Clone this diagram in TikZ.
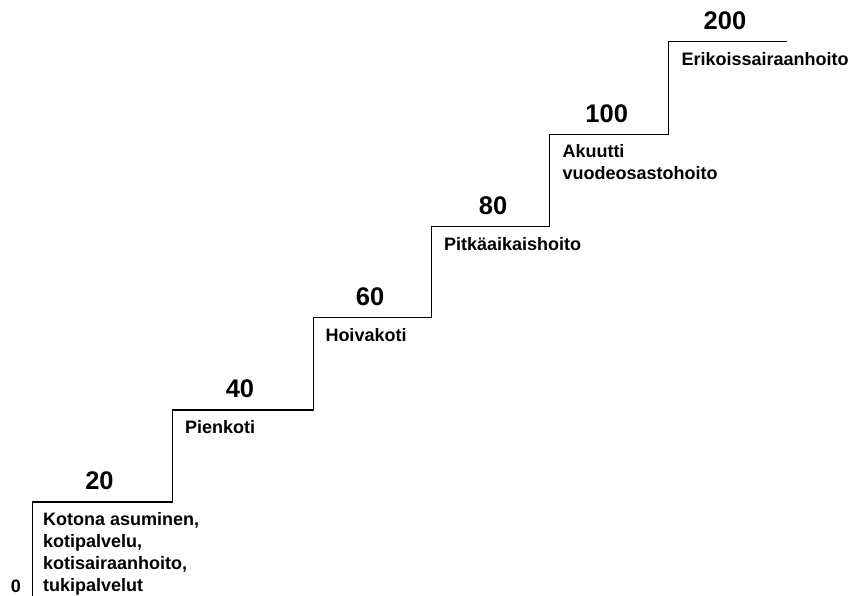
\documentclass[tikz,border=0pt]{standalone}
\usepackage{fontspec}
\setmainfont{Liberation Sans}
\begin{document}
\begin{tikzpicture}[x=1pt,y=1pt,
  stair/.style={draw=black,line width=1.3pt},
  num/.style={anchor=base,inner sep=0pt,font=\fontsize{25.5}{30}\selectfont\bfseries},
  lbl/.style={anchor=base west,inner sep=0pt,font=\fontsize{18}{22}\selectfont\bfseries}]
\useasboundingbox (0,0) rectangle (851,596);
% step corners (y measured upward)
\coordinate (s0) at (32.5,0);
\coordinate (a1) at (32.5,94);
\coordinate (b1) at (172.7,94);
\coordinate (a2) at (172.7,186);
\coordinate (b2) at (313.3,186);
\coordinate (a3) at (313.3,278.3);
\coordinate (b3) at (431.5,278.3);
\coordinate (a4) at (431.5,369.3);
\coordinate (b4) at (549.7,369.3);
\coordinate (a5) at (549.7,461.7);
\coordinate (b5) at (668.7,461.7);
\coordinate (a6) at (668.7,554.3);
\coordinate (b6) at (786.7,554.3);
\draw[stair] (s0) -- (a1) -- (b1) -- (a2) -- (b2) -- (a3) -- (b3) -- (a4) -- (b4) -- (a5) -- (b5) -- (a6) -- (b6);
% numbers
\node[num] (n0) at (15.8,3.5) {\fontsize{18}{22}\selectfont 0};
\node[num] (n20) at (99.5,106) {20};
\node[num] (n40) at (240,198) {40};
\node[num] (n60) at (370,290.3) {60};
\node[num] (n80) at (493,381.3) {80};
\node[num] (n100) at (606.7,473.7) {100};
\node[num] (n200) at (725,566.3) {200};
% labels
\node[lbl] (l1) at (43,70.3) {\begin{tabular}[t]{@{}l@{}}Kotona asuminen,\\kotipalvelu,\\kotisairaanhoito,\\tukipalvelut\end{tabular}};
\node[lbl] (l2) at (185,162.3) {Pienkoti};
\node[lbl] (l3) at (325.3,254.6) {Hoivakoti};
\node[lbl] (l4) at (443.8,345.6) {Pitkäaikaishoito};
\node[lbl] (l5) at (562.3,438) {\begin{tabular}[t]{@{}l@{}}Akuutti\\vuodeosastohoito\end{tabular}};
\node[lbl] (l6) at (681.3,530.6) {Erikoissairaanhoito};
\end{tikzpicture}
\end{document}
